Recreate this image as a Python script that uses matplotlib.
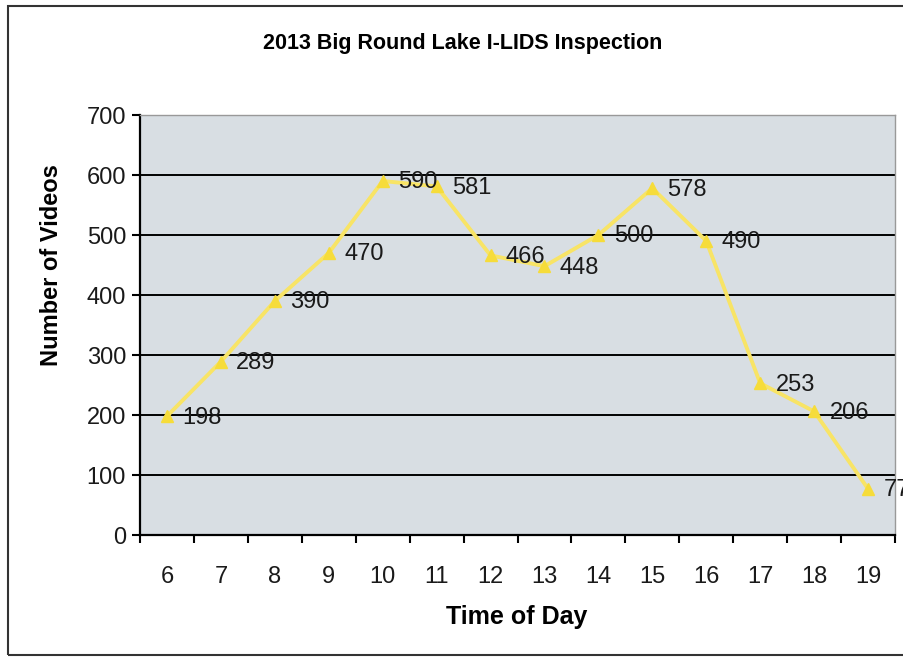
import matplotlib
matplotlib.use("Agg")
import matplotlib.pyplot as plt
from matplotlib.patches import Rectangle

hours = ["6", "7", "8", "9", "10", "11", "12", "13", "14", "15", "16", "17", "18", "19"]
videos = [198, 289, 390, 470, 590, 581, 466, 448, 500, 578, 490, 253, 206, 77]
y_ticks = [0, 100, 200, 300, 400, 500, 600, 700]

font = "Liberation Sans"

fig = plt.figure(figsize=(9.04, 6.64), dpi=100)
ax = fig.add_axes([140/904, 1-535/664, (895-140)/904, (535-115)/664])
ax.set_facecolor("#d8dee3")

x = list(range(len(hours)))
ax.plot(x, videos, color="#f8e466", lw=2.8, marker="^", ms=9, mec="#f6dc3a", mfc="#f6dc3a", zorder=3)
for xi, v in zip(x, videos):
    ax.annotate(str(v), (xi, v), xytext=(11, -1), textcoords="offset points",
                ha="left", va="center", fontsize=17, family=font, color="#1a1a1a",
                zorder=4, annotation_clip=False, clip_on=False)

ax.set_xlim(-0.5, len(hours) - 0.5)
ax.set_ylim(0, 700)
ax.set_yticks(y_ticks)
ax.set_yticklabels([str(t) for t in y_ticks], fontsize=17, family=font, color="#1a1a1a")
ax.set_xticks(x)
ax.set_xticklabels(hours, fontsize=17, family=font, color="#1a1a1a")
ax.set_xticks([i - 0.5 for i in range(len(hours) + 1)], minor=True)
ax.tick_params(axis="x", which="major", length=0, pad=22)
ax.tick_params(axis="x", which="minor", length=6, width=1.5, color="black")
ax.tick_params(axis="y", length=6, width=1.5, pad=4)
ax.grid(axis="y", color="black", lw=1.4, zorder=1)
ax.set_axisbelow(True)
for s in ["top", "right"]:
    ax.spines[s].set_color("#999999")
    ax.spines[s].set_linewidth(1)
for s in ["left", "bottom"]:
    ax.spines[s].set_color("black")
    ax.spines[s].set_linewidth(1.6)

ax.set_ylabel("Number of Videos", fontsize=17, fontweight="bold", family=font)
ax.yaxis.set_label_coords((52 - 140) / 755, (535 - 265) / 420)
ax.set_xlabel("Time of Day", fontsize=18, fontweight="bold", family=font)
ax.xaxis.set_label_coords((517 - 140) / 755, (535 - 617) / 420)
ax.xaxis.label.set_va("center")
ax.yaxis.label.set_va("center")
fig.text(463/904, 1-43/664, "2013 Big Round Lake I-LIDS Inspection", ha="center", va="center",
         fontsize=15.5, fontweight="bold", family=font)

fig.patches.append(Rectangle((8/904, 1-655/664), 1.2, (655-6)/664, transform=fig.transFigure,
                             fill=False, ec="#333333", lw=1.5))
fig.savefig("out.png", dpi=100)
